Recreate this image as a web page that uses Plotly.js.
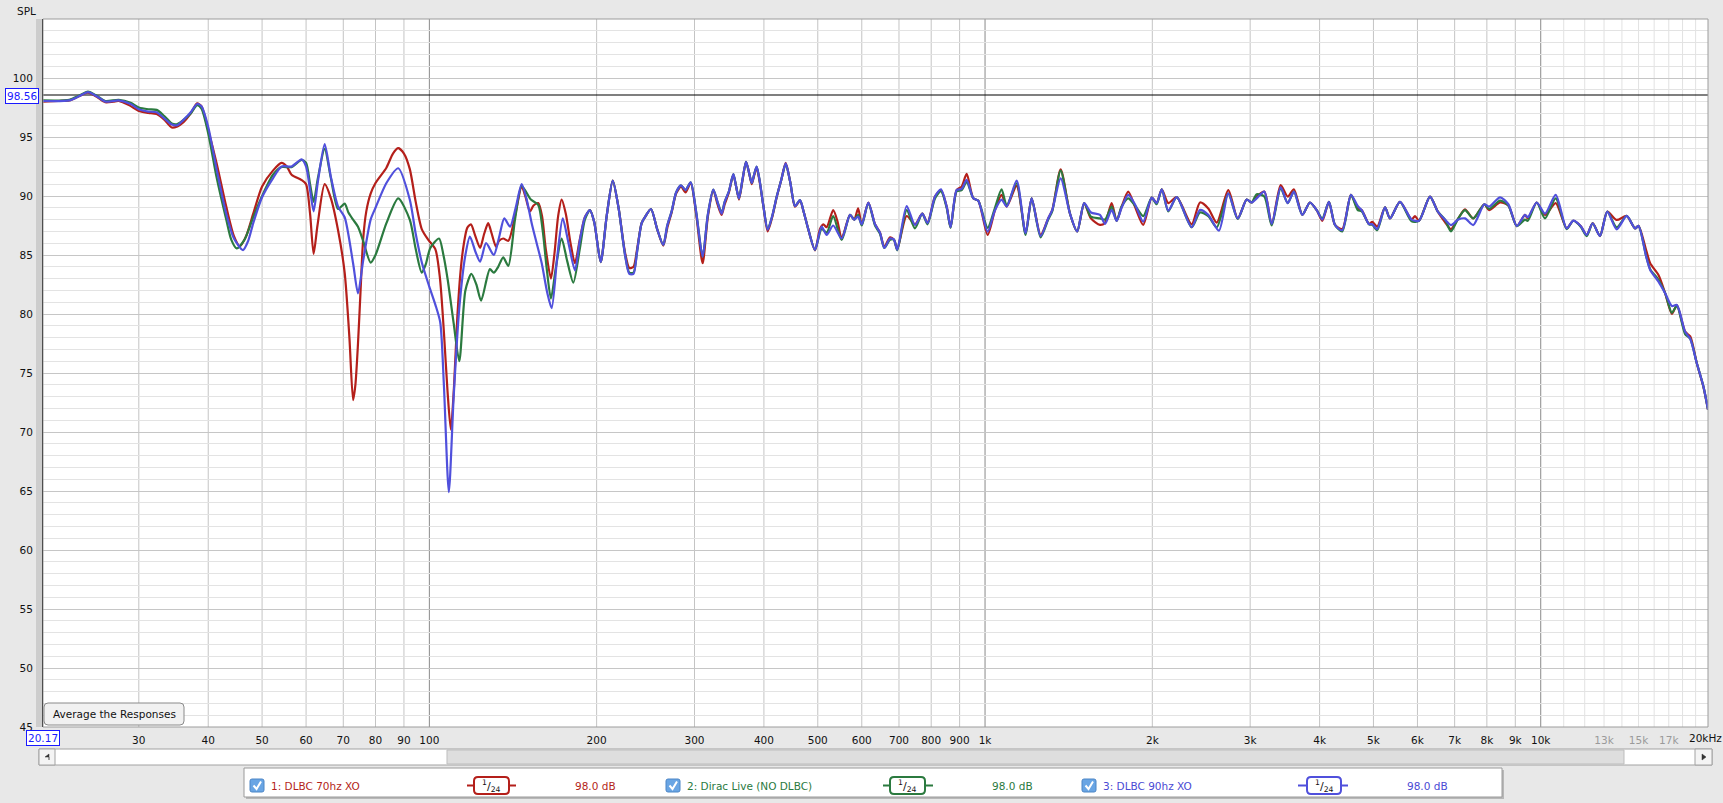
<!DOCTYPE html>
<html>
<head>
<meta charset="utf-8">
<script src="https://cdn.plot.ly/plotly-3.0.1.min.js"></script>
<style>
html,body{margin:0;padding:0;background:#e8e8e8;overflow:hidden;}
#chart{width:1723px;height:803px;}
</style>
</head>
<body>
<div id="chart"></div>
<script>
// ---------- DATA ----------
const seriesNames = ['1: DLBC 70hz XO', '2: Dirac Live (NO DLBC)', '3: DLBC 90hz XO'];
const seriesLevels = ['98.0 dB', '98.0 dB', '98.0 dB'];
const smoothingLabel = '1/24';
const cursorSpl = 98.56;
const cursorHz = 20.17;

const redHz = [
 20.17, 21.5, 22.5, 23.4, 24.3, 25.2, 26.1, 27.0, 27.6, 28.8,
 30, 31.2, 32.3, 33.3, 34.4, 35.2, 36.1, 37.2, 38.2, 38.9,
 40, 41.4, 43.1, 44.5, 45.6, 46.8, 48.2, 50, 52.3, 54.2,
 55.4, 56.5, 58.9, 60, 61.0, 61.9, 62.9, 64.8, 66.5, 68.5,
 70.4, 71.8, 72.9, 73.6, 74.4, 75.2, 76.0, 77.0, 78.4, 80,
 83.7, 86, 87.9, 90, 92.2, 94.5, 96.9, 99.5, 102.5, 104.5,
 106.2, 107.8, 109.3, 110.8, 112.3, 114, 115.4, 117, 118.8, 121,
 123.4, 125.5, 127.6, 129.5, 131.8, 133.5, 135.8, 138.7, 142.6, 146.6,
 149, 151.7, 154, 157, 159.5, 162, 165.5, 168, 170.5, 173,
 176, 179.5, 182.8, 186.5, 190.5, 194.5, 198, 203.4, 208.5, 213.8,
 219, 225, 229, 233, 236.5, 241, 245, 250.5, 257, 263.6,
 268, 272.9, 278, 283.7, 289, 295.3, 302, 310.3, 317, 324.3,
 330, 335.7, 340, 346, 352.4, 356.5, 360.7, 366, 371.4, 376,
 380.3, 384, 388.1, 393, 399, 406.3, 414, 421.8, 430, 437.8,
 446, 455, 464.5, 472, 480, 494.3, 504.6, 511.7, 518.8, 533,
 543, 552, 571.5, 581.7, 591, 600, 616.6, 633.9, 647, 658.8,
 674.5, 685.6, 695, 722.7, 748, 771, 788, 812.7, 833, 853,
 867, 889, 907.7, 926.7, 952.6, 972.5, 1011, 1042, 1071, 1094,
 1140, 1183, 1213, 1259, 1299, 1321, 1368, 1422, 1465, 1508,
 1551, 1610, 1644, 1690, 1725, 1761, 1810, 1861, 1926, 1995,
 2036, 2080, 2137, 2213, 2354, 2437, 2522, 2612, 2740, 2849,
 2957, 3019, 3082, 3181, 3280, 3404, 3505, 3596, 3724, 3843,
 3953, 4045, 4158, 4263, 4394, 4555, 4685, 4763, 4909, 4977,
 5079, 5245, 5355, 5581, 5858, 5940, 6039, 6320, 6524, 6725,
 6894, 7106, 7306, 7562, 7916, 8074, 8450, 8744, 9055, 9367,
 9478, 9835, 10180, 10640, 11134, 11443, 11800, 12097, 12402, 12783,
 13175, 13700, 14280, 14780, 15000, 15480, 15740, 16290, 16750, 17220,
 17580, 18190, 18580, 19100, 19630, 20000
];
const redSpl = [
 98.0, 98.05, 98.1, 98.45, 98.75, 98.4, 97.95, 98.0, 98.05, 97.7,
 97.2, 97.05, 96.95, 96.5, 95.8, 95.9, 96.25, 97.0, 97.85, 97.6,
 95.6, 92.8, 89.1, 86.6, 85.75, 86.6, 88.5, 90.8, 92.15, 92.8,
 92.5, 91.8, 91.35, 91.0, 88.5, 85.1, 87.5, 91.0, 89.8, 87.1,
 83.5, 78.0, 72.7, 74.0, 77.5, 82.0, 86.3, 88.7, 90.2, 91.1,
 92.4, 93.6, 94.05, 93.6, 92.3, 89.5, 87.2, 86.3, 85.5, 83.0,
 78.5, 73.5, 70.2, 74.0, 79.8, 84.0, 86.0, 87.3, 87.6, 86.6,
 85.6, 86.8, 87.7, 86.8, 85.7, 86.2, 86.4, 86.2, 88.3, 90.8,
 89.9, 88.7, 89.2, 89.4, 88.3, 85.5, 83.0, 85.2, 88.3, 89.7,
 88.5, 86.0, 84.3, 86.3, 88.2, 88.8, 87.8, 84.4, 88.3, 91.3,
 89.0, 85.2, 83.9, 84.0, 85.5, 87.7, 88.3, 88.9, 87.2, 85.8,
 87.3, 88.6, 90.2, 90.8, 90.3, 91.1, 88.5, 84.3, 88.2, 90.5,
 89.3, 88.4, 89.3, 90.3, 91.8, 90.8, 89.7, 91.3, 92.9, 92.0,
 91.0, 91.7, 92.4, 91.2, 89.2, 87.0, 88.2, 89.9, 91.4, 92.8,
 91.2, 89.1, 89.6, 88.6, 87.3, 85.4, 87.2, 87.6, 87.35, 88.8,
 87.8, 86.4, 88.4, 88.0, 88.95, 87.6, 89.45, 87.6, 86.9, 85.7,
 86.5, 86.3, 85.5, 88.3, 87.6, 88.5, 87.75, 89.95, 90.5, 89.1,
 87.35, 90.5, 90.8, 91.87, 89.8, 89.6, 86.7, 88.8, 90.1, 89.1,
 90.85, 86.85, 89.8, 86.7, 88.1, 88.8, 92.26, 88.5, 87.0, 89.4,
 88.1, 87.55, 87.74, 89.4, 87.9, 89.1, 90.37, 89.1, 87.55, 89.86,
 89.4, 90.57, 89.4, 89.9, 87.6, 89.45, 88.95, 87.75, 90.5, 88.1,
 89.7, 89.45, 89.95, 90.37, 87.6, 90.93, 89.95, 90.57, 88.4, 89.45,
 88.8, 87.9, 89.5, 87.55, 87.2, 90.1, 88.95, 88.8, 87.63, 87.8,
 87.4, 89.04, 88.1, 89.5, 88.0, 88.3, 87.9, 89.95, 88.7, 87.8,
 87.2, 88.1, 88.87, 88.1, 89.3, 88.8, 89.45, 89.2, 87.45, 88.4,
 88.1, 89.45, 88.4, 89.4, 87.26, 87.9, 87.46, 86.7, 87.7, 86.6,
 88.67, 87.97, 88.31, 87.26, 87.46, 85.4, 84.3, 83.3, 81.75, 80.0,
 80.76, 78.5, 78.1, 75.8, 73.8, 71.9
];

const greenHz = [
 20.17, 22.5, 23.4, 24.3, 25.2, 26.1, 27.6, 29, 30, 31.2,
 32.3, 33.3, 34.4, 35.2, 36.1, 37.2, 38.2, 38.9, 40, 41.4,
 43.1, 44.0, 45.0, 46.5, 48.2, 50, 52.3, 54.2, 56.5, 58.9,
 60, 61.0, 61.9, 63, 64.8, 66.5, 68.5, 70.4, 71.5, 72.9,
 74.4, 76, 78.4, 80, 83.7, 87.9, 92.2, 94.5, 96.9, 98.5,
 100.4, 104.1, 106, 107.9, 110.6, 113.2, 116.1, 119, 121.5, 123.9,
 128.5, 130.6, 133, 135.8, 138.7, 142.6, 146.6, 152.3, 157, 160,
 162.5, 165.5, 169, 173, 177, 181.6, 186.5, 190.5, 194.5, 198,
 203.4, 208.5, 213.8, 219, 225, 229, 233, 236.5, 241, 245,
 250.5, 257, 263.6, 268, 272.9, 278, 283.7, 289, 295.3, 302,
 310.3, 317, 324.3, 330, 335.7, 340, 346, 352.4, 356.5, 360.7,
 366, 371.4, 376, 380.3, 384, 388.1, 393, 399, 406.3, 414,
 421.8, 430, 437.8, 446, 455, 464.5, 472, 480, 494.3, 508,
 519, 533, 552, 571.5, 581.7, 591, 600, 616.6, 633.9, 647,
 658.8, 674.5, 685.6, 695, 722.7, 748, 771, 788, 812.7, 833,
 853, 867, 889, 907.7, 926.7, 952.6, 972.5, 1011, 1042, 1071,
 1094, 1140, 1183, 1213, 1259, 1299, 1321, 1368, 1422, 1465,
 1508, 1551, 1610, 1644, 1690, 1725, 1761, 1810, 1861, 1926,
 1995, 2036, 2080, 2137, 2213, 2354, 2437, 2522, 2612, 2740,
 2849, 2957, 3019, 3082, 3181, 3280, 3404, 3505, 3596, 3724,
 3843, 3953, 4045, 4158, 4263, 4394, 4555, 4685, 4763, 4909,
 4977, 5079, 5245, 5355, 5581, 5858, 6039, 6320, 6524, 6725,
 6894, 7106, 7306, 7562, 7916, 8074, 8450, 8744, 9055, 9367,
 9478, 9835, 10180, 10640, 11134, 11443, 11800, 12097, 12402, 12783,
 13175, 13700, 14280, 14780, 15000, 15480, 15740, 16290, 16750, 17220,
 17580, 18190, 18580, 19100, 19630, 20000
];
const greenSpl = [
 98.1, 98.15, 98.5, 98.85, 98.5, 98.05, 98.15, 97.9, 97.5, 97.35,
 97.3, 96.8, 96.15, 96.1, 96.45, 97.0, 97.7, 97.4, 95.3, 91.6,
 88.0, 86.3, 85.56, 86.3, 88.2, 90.0, 91.8, 92.45, 92.45, 93.05,
 92.8, 91.0, 89.5, 91.5, 94.0, 91.5, 88.9, 89.35, 88.6, 88.0,
 87.4, 86.2, 84.35, 85.0, 87.7, 89.8, 88.0, 85.5, 83.5, 84.2,
 85.6, 86.4, 85.0, 82.9, 79.2, 76.0, 82.0, 83.4, 82.5, 81.13,
 83.8, 83.5, 84.0, 84.8, 84.07, 88.0, 90.85, 89.7, 89.25, 87.0,
 84.0, 81.3, 84.0, 86.4, 84.5, 82.66, 85.5, 88.0, 88.8, 87.8,
 84.4, 88.3, 91.3, 89.0, 85.0, 83.5, 83.5, 85.3, 87.7, 88.3,
 88.9, 87.2, 85.85, 87.5, 88.7, 90.3, 90.9, 90.5, 91.15, 88.7,
 84.86, 88.4, 90.55, 89.5, 88.6, 89.5, 90.4, 91.85, 90.8, 89.8,
 91.4, 92.9, 92.0, 91.1, 91.8, 92.5, 91.3, 89.2, 87.2, 88.3,
 89.95, 91.4, 92.7, 91.2, 89.15, 89.65, 88.6, 87.3, 85.43, 87.2,
 86.9, 88.3, 86.27, 88.4, 88.0, 88.4, 87.5, 89.4, 87.5, 86.8,
 85.6, 86.3, 86.3, 85.4, 88.8, 87.26, 88.5, 87.6, 89.8, 90.4,
 89.0, 87.3, 90.4, 90.5, 91.2, 89.8, 89.6, 87.3, 89.0, 90.57,
 89.2, 91.08, 86.7, 89.8, 86.5, 88.0, 88.7, 92.15, 88.5, 87.0,
 89.4, 88.25, 88.1, 88.0, 89.1, 87.9, 89.1, 89.8, 89.2, 88.3,
 89.86, 89.3, 90.57, 88.7, 89.9, 87.35, 88.6, 88.3, 87.35, 90.2,
 88.05, 89.7, 89.45, 90.15, 89.95, 87.5, 90.65, 89.4, 90.37, 88.4,
 89.45, 88.8, 88.1, 89.5, 87.55, 87.0, 90.1, 88.8, 88.7, 87.6,
 87.55, 87.1, 89.04, 88.1, 89.5, 87.85, 87.9, 89.95, 88.7, 88.0,
 87.0, 88.1, 88.8, 88.1, 89.3, 88.9, 89.6, 89.2, 87.45, 88.0,
 87.9, 89.45, 88.1, 89.8, 87.2, 87.9, 87.4, 86.6, 87.69, 86.61,
 88.67, 87.35, 88.31, 87.26, 87.46, 84.9, 83.8, 82.9, 81.75, 80.1,
 80.7, 78.3, 77.9, 75.8, 73.84, 71.9
];

const blueHz = [
 20.17, 22.5, 23.4, 24.3, 25.2, 26.1, 27.6, 29, 30, 31.2,
 32.3, 33.3, 34.4, 35.2, 36.1, 37.2, 38.2, 38.9, 40, 41.4,
 43.1, 44.5, 46.2, 47.2, 48.2, 50, 52.3, 54.2, 56.5, 58.9,
 60, 61.0, 61.9, 63, 64.8, 66.5, 68.5, 70.4, 72.9, 74.4,
 76, 78.4, 80, 83.7, 87.9, 92.2, 94.5, 97, 100, 102.5,
 104.6, 106.2, 108.4, 110.6, 113.2, 116.1, 118.3, 121, 123.4, 126.5,
 130.6, 133.5, 136.4, 139.7, 143, 146.6, 149.5, 152.8, 156, 159.3,
 163, 166, 170, 173.8, 178, 182.8, 186.5, 190.5, 194.5, 198,
 203.4, 208.5, 213.8, 219, 225, 229, 233, 236.5, 241, 245,
 250.5, 257, 263.6, 268, 272.9, 278, 283.7, 289, 295.3, 302,
 310.3, 317, 324.3, 330, 335.7, 340, 346, 352.4, 356.5, 360.7,
 366, 371.4, 376, 380.3, 384, 388.1, 393, 399, 406.3, 414,
 421.8, 430, 437.8, 446, 455, 464.5, 472, 480, 494.3, 508,
 518.8, 533, 552, 571.5, 581.7, 591, 600, 616.6, 633.9, 647,
 658.8, 674.5, 685.6, 695, 722.7, 748, 771, 788, 812.7, 833,
 853, 867, 889, 907.7, 926.7, 952.6, 972.5, 1011, 1042, 1071,
 1094, 1140, 1183, 1213, 1259, 1299, 1321, 1368, 1422, 1465,
 1508, 1551, 1610, 1644, 1690, 1725, 1761, 1810, 1861, 1926,
 1995, 2036, 2080, 2137, 2213, 2354, 2437, 2522, 2636, 2740,
 2849, 2957, 3019, 3082, 3181, 3280, 3404, 3505, 3596, 3724,
 3843, 3953, 4045, 4158, 4263, 4394, 4555, 4685, 4763, 4909,
 4977, 5079, 5245, 5355, 5581, 5858, 6039, 6320, 6524, 6725,
 6894, 7106, 7306, 7562, 7916, 8074, 8450, 8744, 9055, 9367,
 9478, 9835, 10180, 10640, 11134, 11443, 11800, 12097, 12402, 12783,
 13175, 13700, 14280, 14780, 15000, 15480, 15740, 16290, 16750, 17220,
 17580, 18190, 18580, 19100, 19630, 20000
];
const blueSpl = [
 98.05, 98.1, 98.45, 98.8, 98.45, 98.0, 98.1, 97.8, 97.35, 97.15,
 97.1, 96.6, 96.05, 96.0, 96.45, 97.1, 97.8, 97.6, 95.85, 92.3,
 88.5, 86.4, 85.42, 86.2, 87.7, 89.9, 91.5, 92.5, 92.5, 93.1,
 92.5, 90.5, 88.7, 91.2, 94.4, 91.6, 89.1, 88.2, 84.3, 81.75,
 84.5, 88.0, 89.0, 91.1, 92.35, 89.7, 86.8, 84.3, 82.3, 80.8,
 79.3, 74.0, 64.9, 73.0, 80.5, 85.0, 86.56, 85.3, 84.44, 86.0,
 85.0, 86.5, 88.1, 87.4, 89.0, 91.0, 89.8, 87.7, 86.0, 84.3,
 81.8, 80.5, 85.0, 88.1, 86.0, 83.7, 86.2, 88.2, 88.8, 87.8,
 84.4, 88.3, 91.3, 89.0, 85.0, 83.4, 83.4, 85.3, 87.7, 88.3,
 88.9, 87.2, 85.85, 87.5, 88.7, 90.3, 90.9, 90.5, 91.15, 88.7,
 84.86, 88.4, 90.55, 89.5, 88.5, 89.5, 90.4, 91.85, 90.8, 89.8,
 91.4, 92.9, 92.0, 91.1, 91.8, 92.5, 91.3, 89.2, 87.15, 88.3,
 89.95, 91.4, 92.77, 91.2, 89.15, 89.65, 88.6, 87.3, 85.43, 87.4,
 86.7, 87.5, 86.4, 88.4, 88.0, 88.25, 87.6, 89.45, 87.6, 86.9,
 85.6, 86.4, 86.3, 85.45, 89.15, 87.55, 88.5, 87.7, 89.95, 90.57,
 89.1, 87.35, 90.5, 90.6, 91.36, 89.8, 89.6, 86.98, 88.8, 89.7,
 89.1, 91.3, 86.85, 89.8, 86.6, 88.1, 88.8, 91.5, 88.5, 87.0,
 89.4, 88.6, 88.4, 87.63, 88.82, 87.9, 89.0, 90.09, 89.3, 87.83,
 89.86, 89.4, 90.57, 88.76, 89.9, 87.35, 88.82, 88.4, 87.06, 90.23,
 88.1, 89.7, 89.45, 89.8, 90.37, 87.63, 90.74, 89.4, 90.37, 88.4,
 89.45, 88.8, 88.0, 89.5, 87.55, 87.1, 90.1, 89.15, 88.8, 87.63,
 87.6, 87.2, 89.04, 88.1, 89.5, 88.0, 87.9, 89.95, 88.7, 88.0,
 87.54, 88.0, 88.1, 87.54, 89.3, 89.1, 89.89, 89.3, 87.46, 88.4,
 88.2, 89.45, 88.5, 90.09, 87.26, 87.91, 87.46, 86.7, 87.69, 86.61,
 88.67, 87.18, 88.31, 87.26, 87.46, 84.86, 83.73, 82.74, 81.75, 80.68,
 80.76, 78.5, 77.9, 75.8, 73.84, 71.9
];

// axis ticks
const xTickVals = [30,40,50,60,70,80,90,100,200,300,400,500,600,700,800,900,1000,2000,3000,4000,5000,6000,7000,8000,9000,10000,13000,15000,17000];
const xTickText = ['30','40','50','60','70','80','90','100','200','300','400','500','600','700','800','900','1k','2k','3k','4k','5k','6k','7k','8k','9k','10k','13k','15k','17k'];
const xTickDim = ['13k','15k','17k'];
const xEndTickVal = 20000;
const xEndTickText = '20kHz';
const yTickVals = [45,50,55,60,65,70,75,80,85,90,95,100];
const gridStdHz = [30,40,50,60,70,80,90,200,300,400,500,600,700,800,900,2000,3000,4000,5000,6000,7000,8000,9000];
const gridDecadeHz = [100,1000,10000];
const gridHighHz = [11000,12000,13000,14000,15000,16000,17000,18000,19000];

// ---------- STYLE / LAYOUT ----------
const colors = ['#b41f1a', '#2b7a3f', '#5050dc'];
const textColors = ['#b41f1a', '#2b7a3f', '#4a4ad4'];
const FONT = 'DejaVu Sans, Verdana, sans-serif';
const W = 1723, H = 803, PL = 43, PR = 15, PT = 19, PB = 76;
const PW = W - PL - PR, PH = H - PT - PB;
function xp(px){ return (px - PL) / PW; }
function yp(py){ return (PT + PH - py) / PH; }
function rrect(x0, y0, x1, y1, r){
  const a = xp(x0), b = xp(x1), c = yp(y0), d = yp(y1);
  const rx = r / PW, ry = r / PH;
  return `M${a+rx},${c} L${b-rx},${c} Q${b},${c} ${b},${c-ry} L${b},${d+ry} Q${b},${d} ${b-rx},${d} L${a+rx},${d} Q${a},${d} ${a},${d+ry} L${a},${c-ry} Q${a},${c} ${a+rx},${c} Z`;
}
function pathPx(points, close){
  return points.map((p, i) => (i ? 'L' : 'M') + xp(p[0]) + ',' + yp(p[1])).join(' ') + (close ? ' Z' : '');
}

const traces = [
  {x: redHz, y: redSpl, color: colors[0]},
  {x: greenHz, y: greenSpl, color: colors[1]},
  {x: blueHz, y: blueSpl, color: colors[2]}
].map(s => ({
  x: s.x, y: s.y, type: 'scatter', mode: 'lines', hoverinfo: 'skip', showlegend: false,
  line: {color: s.color, width: 2.2, shape: 'spline', smoothing: 0.7}
}));

const shapes = [];
const annotations = [];

// vertical grid lines
gridStdHz.forEach(f => shapes.push({type:'line', xref:'x', yref:'paper', x0:f, x1:f, y0:0, y1:1, layer:'between', line:{color:'#c4c4c4', width:1}}));
gridHighHz.forEach(f => shapes.push({type:'line', xref:'x', yref:'paper', x0:f, x1:f, y0:0, y1:1, layer:'between', line:{color:'#e2e2e2', width:1}}));
gridDecadeHz.forEach(f => shapes.push({type:'line', xref:'x', yref:'paper', x0:f, x1:f, y0:0, y1:1, layer:'between', line:{color:'#8a8a8a', width:1}}));
// cursor line
shapes.push({type:'line', xref:'paper', yref:'y', x0:0, x1:1, y0:cursorSpl, y1:cursorSpl, layer:'between', line:{color:'#000', width:1.2}});
// plot frame (top/right/bottom)
shapes.push({type:'rect', xref:'paper', yref:'paper', x0:0, x1:1, y0:0, y1:1, layer:'above', line:{color:'#9c9c9c', width:1}});
// left shaded strip next to axis
shapes.push({type:'rect', xref:'paper', yref:'paper', x0:xp(36), x1:xp(42), y0:0, y1:1, layer:'above', fillcolor:'#cdcdcd', line:{width:0}});

// Average the Responses button
shapes.push({type:'path', xref:'paper', yref:'paper', path: rrect(44, 703, 184, 725, 4), layer:'above', fillcolor:'#f1f1f1', line:{color:'#8a8a8a', width:1}});
annotations.push({xref:'paper', yref:'paper', x:xp(114), y:yp(714), text:'Average the Responses', showarrow:false, font:{family:FONT, size:10.5, color:'#111'}, xanchor:'center', yanchor:'middle'});

// cursor boxes
annotations.push({xref:'paper', yref:'paper', x:xp(21.5), y:yp(95.5), text:cursorSpl.toFixed(2), showarrow:false, font:{family:FONT, size:10.5, color:'#1a1aff'}, bgcolor:'#ffffff', bordercolor:'#1a1aff', borderwidth:1, borderpad:1, xanchor:'center', yanchor:'middle'});
annotations.push({xref:'paper', yref:'paper', x:xp(43), y:yp(737.5), text:cursorHz.toFixed(2), showarrow:false, font:{family:FONT, size:10.5, color:'#1a1aff'}, bgcolor:'#ffffff', bordercolor:'#1a1aff', borderwidth:1, borderpad:1, xanchor:'center', yanchor:'middle'});
// SPL label
annotations.push({xref:'paper', yref:'paper', x:xp(26), y:yp(11), text:'SPL', showarrow:false, font:{family:FONT, size:10.5, color:'#111'}, xanchor:'center', yanchor:'middle'});
// end tick label at 20 kHz
annotations.push({xref:'x', yref:'paper', x:Math.log10(xEndTickVal), y:yp(737.5), xshift:-3, text:xEndTickText, showarrow:false, font:{family:FONT, size:10.5, color:'#111'}, xanchor:'center', yanchor:'middle'});

// scrollbar
shapes.push({type:'rect', xref:'paper', yref:'paper', x0:xp(39), x1:xp(1712), y0:yp(749), y1:yp(765), layer:'above', fillcolor:'#ffffff', line:{color:'#a2a2a2', width:1}});
shapes.push({type:'rect', xref:'paper', yref:'paper', x0:xp(447), x1:xp(1624), y0:yp(750), y1:yp(764), layer:'above', fillcolor:'#dedede', line:{color:'#bdbdbd', width:1}});
shapes.push({type:'rect', xref:'paper', yref:'paper', x0:xp(39), x1:xp(55), y0:yp(749), y1:yp(765), layer:'above', fillcolor:'#f4f4f4', line:{color:'#a2a2a2', width:1}});
shapes.push({type:'rect', xref:'paper', yref:'paper', x0:xp(1695), x1:xp(1712), y0:yp(749), y1:yp(765), layer:'above', fillcolor:'#f4f4f4', line:{color:'#a2a2a2', width:1}});
shapes.push({type:'path', xref:'paper', yref:'paper', path: pathPx([[49,757],[45,757],[49,754],[49,760]], true), layer:'above', fillcolor:'#333', line:{color:'#333', width:0.5}});
shapes.push({type:'path', xref:'paper', yref:'paper', path: pathPx([[1702,754],[1706,757],[1702,760]], true), layer:'above', fillcolor:'#333', line:{color:'#333', width:0.5}});

// legend panel
shapes.push({type:'rect', xref:'paper', yref:'paper', x0:xp(246), x1:xp(1504), y0:yp(770), y1:yp(799), layer:'above', fillcolor:'#b8b8b8', line:{width:0}});
shapes.push({type:'rect', xref:'paper', yref:'paper', x0:xp(244), x1:xp(1502), y0:yp(768), y1:yp(797), layer:'above', fillcolor:'#ffffff', line:{color:'#9a9a9a', width:1}});

const legendItems = [
  {cb:250, name:269, line:[467,516], box:[474,509], lvl:595},
  {cb:666, name:685, line:[883,933], box:[890,925], lvl:1012},
  {cb:1082, name:1101, line:[1298,1348], box:[1307,1341], lvl:1427}
];
const LY = 785.5;
legendItems.forEach((it, i) => {
  shapes.push({type:'path', xref:'paper', yref:'paper', path: rrect(it.cb, LY-6.5, it.cb+14, LY+6.5, 2), layer:'above', fillcolor:'#69a5e4', line:{color:'#4c86c6', width:1}});
  shapes.push({type:'path', xref:'paper', yref:'paper', path: pathPx([[it.cb+3.5, LY], [it.cb+6.5, LY+3.5], [it.cb+11, LY-4]], false), layer:'above', line:{color:'#ffffff', width:2}});
  annotations.push({xref:'paper', yref:'paper', x:xp(it.name), y:yp(LY), text:seriesNames[i], showarrow:false, font:{family:FONT, size:10.5, color:textColors[i]}, xanchor:'left', yanchor:'middle'});
  shapes.push({type:'line', xref:'paper', yref:'paper', x0:xp(it.line[0]), x1:xp(it.line[1]), y0:yp(LY), y1:yp(LY), layer:'above', line:{color:colors[i], width:2}});
  shapes.push({type:'path', xref:'paper', yref:'paper', path: rrect(it.box[0], LY-8.5, it.box[1], LY+8.5, 4), layer:'above', fillcolor:'#ffffff', line:{color:colors[i], width:2}});
  const parts = smoothingLabel.split('/');
  annotations.push({xref:'paper', yref:'paper', x:xp((it.box[0]+it.box[1])/2), y:yp(LY), text:'<sup>'+parts[0]+'</sup>/<sub>'+parts[1]+'</sub>', showarrow:false, font:{family:FONT, size:11, color:'#111'}, xanchor:'center', yanchor:'middle'});
  annotations.push({xref:'paper', yref:'paper', x:xp(it.lvl), y:yp(LY), text:seriesLevels[i], showarrow:false, font:{family:FONT, size:10.5, color:textColors[i]}, xanchor:'center', yanchor:'middle'});
});

const tickTextStyled = xTickText.map(t => xTickDim.includes(t) ? '<span style="color:#9a9a9a">'+t+'</span>' : t);

const layout = {
  width: W, height: H,
  margin: {l: PL, r: PR, t: PT, b: PB, pad: 0},
  paper_bgcolor: '#e8e8e8',
  plot_bgcolor: '#ffffff',
  showlegend: false,
  hovermode: false,
  font: {family: FONT, size: 10.5, color: '#111'},
  xaxis: {
    type: 'log',
    range: [Math.log10(cursorHz), Math.log10(20000)],
    showgrid: false, zeroline: false,
    tickmode: 'array', tickvals: xTickVals, ticktext: tickTextStyled,
    ticks: 'outside', ticklen: 3, tickcolor: 'rgba(0,0,0,0)',
    tickfont: {family: FONT, size: 10.5, color: '#111'},
    showline: false, fixedrange: true
  },
  yaxis: {
    range: [45, 105],
    tickmode: 'array', tickvals: yTickVals,
    showgrid: true, gridcolor: '#c6c6c6', gridwidth: 1,
    minor: {tick0: 45, dtick: 1, showgrid: true, gridcolor: '#e3e3e3', gridwidth: 1, ticks: ''},
    zeroline: false,
    ticks: 'outside', ticklen: 6, tickcolor: 'rgba(0,0,0,0)',
    tickfont: {family: FONT, size: 10.5, color: '#111'},
    showline: true, linecolor: '#000', linewidth: 2,
    fixedrange: true
  },
  shapes: shapes,
  annotations: annotations
};

Plotly.newPlot('chart', traces, layout, {staticPlot: true, displayModeBar: false});
</script>
</body>
</html>
